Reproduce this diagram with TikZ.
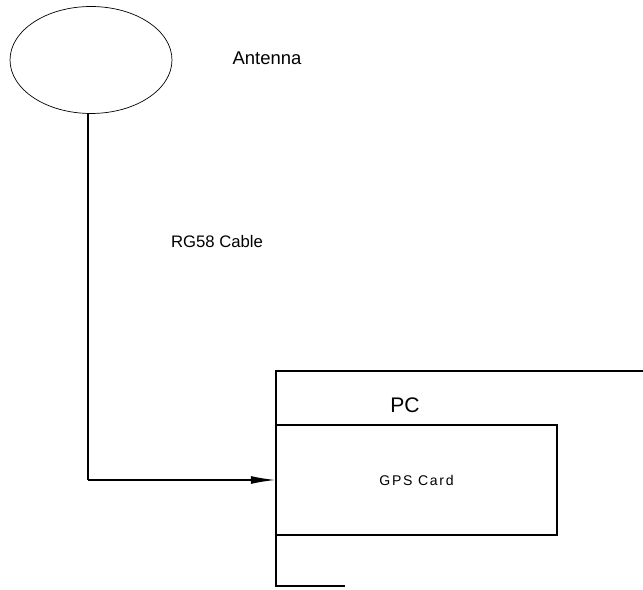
\documentclass[tikz,border=0pt]{standalone}
\usepackage{fontspec}
\setmainfont{Liberation Sans}
\usepackage{tikz}
\usetikzlibrary{arrows.meta,shapes.geometric}

\begin{document}
\begin{tikzpicture}[x=0.02cm,y=-0.02cm]
    \useasboundingbox (0,0) rectangle (643,590);

    \node (ant) [draw,ellipse,thin,minimum width=3.24cm,minimum height=2.14cm,inner sep=0pt] at (91,60) {};
    \node (antlbl) at (267,58) {\fontsize{10.5}{12}\selectfont Antenna};
    \node (cbllbl) at (217,242) {\fontsize{9.5}{12}\selectfont RG58 Cable};

    \node (gps) [draw,semithick,rectangle,minimum width=5.62cm,minimum height=2.2cm,inner sep=0pt] at (416.5,480) {\fontsize{8}{9}\selectfont\addfontfeatures{LetterSpace=12}GPS Card};
    \node (pclbl) at (405,405) {\fontsize{12}{14}\selectfont PC};

    \coordinate (pctl) at (276,371);
    \coordinate (pctr) at (643,371);
    \coordinate (pcbl) at (276,586);
    \coordinate (pcbr) at (345,586);
    \coordinate (bend) at (88,480);

    % PC outline
    \draw[semithick] (pctr) -- (pctl) -- (pcbl) -- (pcbr);

    % cable
    \draw[thick] (ant.south -| bend) -- (bend);
    \draw[thick,-{Latex[length=14pt,width=4.5pt]}] (bend) -- (gps.west);
\end{tikzpicture}
\end{document}
